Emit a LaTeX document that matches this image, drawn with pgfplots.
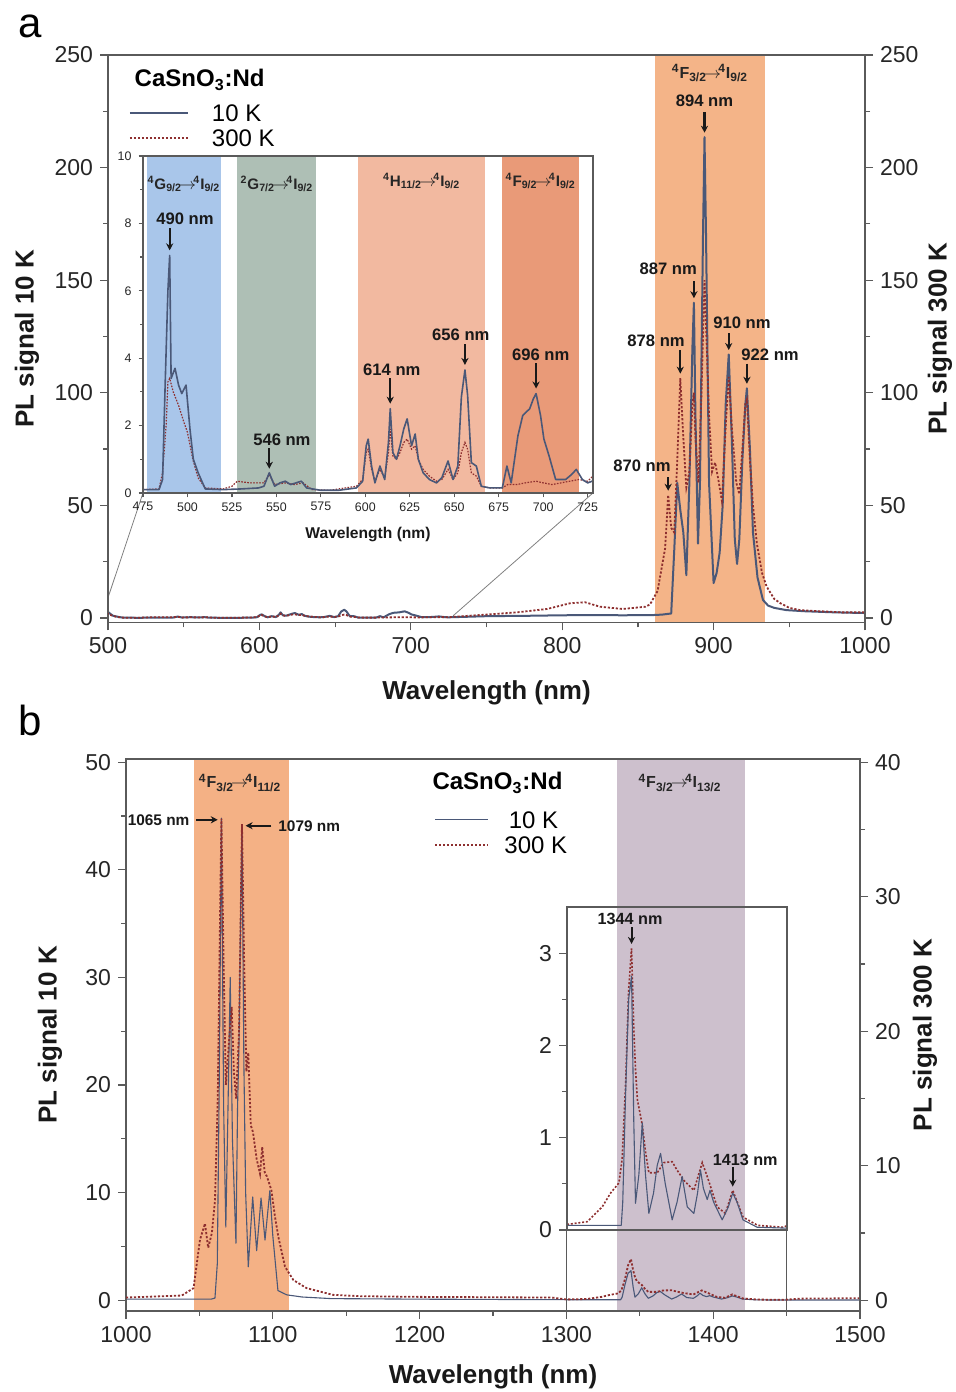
\documentclass[border=0pt]{standalone}
\usepackage{fontspec}
\setmainfont{Liberation Sans}
\usepackage{pgfplots}
\usepackage{pgfplotstable}
\pgfplotsset{compat=1.18}
\usetikzlibrary{arrows.meta}

\definecolor{cten}{HTML}{4A5878}
\definecolor{cthree}{HTML}{8E2F2F}
\definecolor{axgray}{HTML}{5A5A5A}
\definecolor{bandNIR}{HTML}{F4B488}
\definecolor{bandBlue}{HTML}{A9C6EA}
\definecolor{bandGreen}{HTML}{AEBFB5}
\definecolor{bandSalmon}{HTML}{F2B9A0}
\definecolor{bandDeep}{HTML}{E99A78}
\definecolor{bandB}{HTML}{F4B185}
\definecolor{bandPurple}{HTML}{CDC0CD}

% ---------- spectra, panel a (PL signal, same scale for both temperatures)
\pgfplotstableread{
x y
475 0.10
480 0.10
484 0.10
486 0.4
487.5 3.3
489 6.0
490 7.05
490.8 3.4
493 3.7
495 3.2
496.8 2.95
499.2 3.2
501.4 1.9
503.3 1.0
506 0.6
510 0.12
520 0.10
530 0.12
540 0.15
543 0.2
546 0.6
549 0.2
552 0.3
555 0.35
558 0.25
561 0.3
564 0.35
567 0.15
575 0.08
585 0.08
595 0.15
598.5 0.35
600.5 1.4
601.6 1.6
603.5 0.8
605.4 0.3
608.2 0.8
610.9 0.4
613 1.5
614 2.5
615.5 1.2
617.5 1.0
619.5 1.4
621.6 1.9
623.5 2.2
626 1.4
628 1.75
629.8 1.0
632.5 0.6
636 0.4
640 0.3
643 0.45
646.5 0.95
649.3 0.4
652 0.8
654 2.85
656 3.65
657.5 2.9
659.6 0.9
662.4 0.8
665.2 0.2
670 0.15
677 0.15
679.6 0.8
682 0.3
685.8 1.7
688.5 2.3
692.4 2.5
694.5 2.8
696 2.95
698.5 2.3
700.4 1.6
703.3 1.1
707 0.4
712.6 0.4
716 0.55
718.6 0.7
722 0.4
725 0.3
730 0.4
750 0.8
780 1.0
800 1.2
820 1.3
840 1.2
860 1.3
866 1.5
872 2.0
874 30
876 60
878 48
880 38
882 19
884 60
886 120
887 140
888 90
889.7 33
891 60
893 170
894 213.5
895 170
897 60
900 15.5
902 20
904 29
906 50
908 95
910 117
912 80
914 35
915.5 24
917 35
919 70
921 95
922 102
924 75
926 38
929 18
932.6 8
936 5.5
940 4.5
948 3.5
960 3
980 2.5
1000 2.2
}\tblAten

\pgfplotstableread{
x y
475 0.10
484 0.12
486 0.6
488 2.0
489 3.3
490 3.4
492 3.0
495 2.6
498 2.1
500 1.8
503 1.0
506 0.45
510 0.15
520 0.12
525 0.2
528 0.35
535 0.3
540 0.3
543 0.3
546 0.55
549 0.25
555 0.3
560 0.25
565 0.3
570 0.1
580 0.08
595 0.2
598.5 0.4
600.5 1.2
601.6 1.3
603.5 0.7
605.4 0.35
608.2 0.7
610.9 0.45
613 1.2
614 1.9
615.5 1.1
617.5 1.0
619.5 1.2
621.6 1.5
623.5 1.6
626 1.3
628 1.4
629.8 1.0
632.5 0.7
636 0.5
640 0.35
643 0.4
646.5 0.7
649.3 0.4
652 0.6
654 1.2
656 1.5
657.5 1.3
659.6 0.6
662.4 0.5
665.2 0.2
670 0.15
677 0.15
680 0.25
685 0.25
690 0.3
696 0.35
700 0.3
705 0.25
710 0.3
715 0.35
720 0.4
725 0.35
730 0.6
750 1.5
770 2.5
790 4.0
805 6.5
815 7.0
825 5.0
840 4.0
855 5.0
858 6
863 12
868 31
870 54.6
872 40
874 38
876 70
878 106.5
880 80
882 58
884 65
886 95
887 100
888 80
890 60
892 100
894 150
895 130
897 90
899 65
901 69
903 62
905.5 52
908 85
910 107
912 85
915 60
917 55
919 75
921 95
922 97
924 70
926 50
928.6 33
932 20
935 14
940 8.5
944 6.6
950 4.5
957 3.5
970 3
985 2.5
1000 2.5
}\tblAthree

% ---------- spectra, panel b (10 K on the left scale, 300 K on the right scale)
\pgfplotstableread{
x y
1000 0.1
1040 0.1
1058 0.1
1060.6 0.2
1062.2 3.4
1063.5 20
1065 44.8
1066.5 18
1068 6.8
1069.5 18
1071 30
1072.5 15
1074.9 5.3
1076 18
1077 24
1078 35
1079 44.2
1080.3 22
1081.5 10
1083.3 3.1
1086.3 9.6
1089 4.6
1090.5 7
1092 9.5
1094.7 5.6
1098 10.2
1100 6
1103.5 0.9
1109.5 0.5
1120 0.3
1140 0.15
1200 0.1
1300 0.05
1337 0.05
1338 0.3
1340 1.5
1342 2.5
1344 2.75
1345.5 1.2
1346.7 0.29
1349 0.6
1351.3 1.16
1353.5 0.6
1355.8 0.18
1359 0.4
1361.5 0.7
1363.8 0.83
1367 0.5
1371.7 0.11
1375 0.3
1378.5 0.58
1382 0.25
1386.5 0.18
1389 0.4
1391 0.65
1393 0.45
1395.6 0.33
1397.5 0.43
1400 0.3
1405.8 0.11
1410 0.25
1413 0.4
1416 0.3
1420 0.11
1429.6 0.03
1450 0.02
1500 0.02
}\tblBten

\pgfplotstableread{
x y
1000 0.2
1038 0.35
1046 0.9
1050.4 4.5
1053.8 5.7
1056 3.9
1058.5 5
1060.6 7.4
1062.5 15
1064 28
1065 35.8
1066.5 25
1068 16
1070 19
1072 21.8
1073.5 17
1075 15
1077 20
1079 35.4
1080.5 25
1082 17
1083.3 18.4
1085 13
1086.5 12.5
1089 10.5
1091.3 9.4
1092.8 11.4
1094.5 9.5
1096 9.2
1099 8.2
1101.5 6.2
1103.8 4.7
1108.3 2.5
1114 1.5
1123 0.9
1141 0.4
1160 0.3
1200 0.25
1290 0.2
1300 0.06
1313.8 0.09
1324 0.25
1329.7 0.4
1335.4 0.51
1337.6 0.77
1340 1.6
1342 2.6
1344 3.05
1345.5 2.2
1346.7 1.74
1348 1.41
1351.3 1.14
1353.5 0.85
1355.8 0.62
1361.5 0.62
1366 0.73
1371.7 0.74
1375 0.65
1379.6 0.54
1386.5 0.43
1392.2 0.73
1395.6 0.58
1402.4 0.25
1408 0.18
1413 0.43
1420 0.14
1430 0.05
1447.6 0.03
1460 0.12
1500 0.15
}\tblBthree

\newcommand{\trans}[4]{\textsuperscript{#1}#2\textsubscript{#3}$\!\rightarrow\!$\textsuperscript{4}I\textsubscript{#4}}

\tikzset{
  ann/.style={font=\bfseries\fontsize{8.3}{9}\selectfont, text=black!90},
  trn/.style={font=\bfseries\fontsize{8}{9}\selectfont, text=black!85},
  trnsmall/.style={font=\bfseries\fontsize{7.6}{8.5}\selectfont, text=black!85, inner sep=0pt},
  arr/.style={-{Stealth[length=3.5pt,width=3.6pt]}, line width=1.1pt, black!90},
  biglabel/.style={font=\bfseries\fontsize{13}{15}\selectfont, text=black!90},
}

\pgfplotsset{
  specax/.style={
    scale only axis,
    axis line style={draw=axgray, line width=0.6pt},
    every tick/.style={draw=axgray, line width=0.6pt},
    tick align=outside,
    major tick length=4pt, minor tick length=2.5pt,
    /pgf/number format/assume math mode=true,
    /pgf/number format/1000 sep={},
    tick label style={font=\fontsize{11.5}{13}\selectfont, text=black!85},
    axis on top,
  },
  tenline/.style={cten, line width=1.0pt, line join=round},
  threeline/.style={cthree, line width=0.9pt, dash pattern=on 1.1pt off 0.9pt},
}

\begin{document}
\begin{tikzpicture}

% ================= panel a =================
\begin{axis}[specax,
  at={(54pt,384.75pt)}, anchor=south west,
  width=378.5pt, height=283.75pt,
  xmin=500, xmax=1000, ymin=-2, ymax=250,
  xtick={500,600,...,1000}, minor xtick={550,650,...,950},
  ytick={0,50,...,250}, minor ytick={25,75,...,225},
  xtick pos=bottom, ytick pos=left,
  xlabel={Wavelength (nm)}, ylabel={PL signal 10 K},
  every axis x label/.style={at={(axis description cs:0.5,-0.124)}, anchor=center, biglabel},
  every axis y label/.style={at={(axis description cs:-0.107,0.5)}, anchor=center, rotate=90, biglabel},
]
\fill[bandNIR] (axis cs:861,-2) rectangle (axis cs:934,250);
\addplot[tenline] table {\tblAten};
% zoom guides to the inset
\draw[gray, line width=0.4pt] (axis cs:523.1,55.5) -- (axis cs:500,9);
\draw[gray, line width=0.4pt] (axis cs:820.3,55.5) -- (axis cs:728,1);
% legend
\node[anchor=west, font=\bfseries\fontsize{12}{13}\selectfont] at (axis cs:513,238.9) {CaSnO\textsubscript{3}:Nd};
\draw[cten, line width=1.0pt] (axis cs:514.5,224.2) -- (axis cs:552.8,224.2);
\node[anchor=west, font=\fontsize{12}{13}\selectfont] at (axis cs:564,224.2) {10 K};
\draw[cthree, line width=0.9pt, dash pattern=on 1.1pt off 0.9pt] (axis cs:514.5,213.1) -- (axis cs:552.8,213.1);
\node[anchor=west, font=\fontsize{12}{13}\selectfont] at (axis cs:564,213.1) {300 K};
% transition and peak labels
\node[trn] at (axis cs:897.6,242) {\trans{4}{F}{3/2}{9/2}};
\node[ann] at (axis cs:894,229.5) {894 nm};
\draw[arr] (axis cs:894,224.5) -- (axis cs:894,215.5);
\node[ann] at (axis cs:870,155) {887 nm};
\draw[arr] (axis cs:887,149.5) -- (axis cs:887,142);
\node[ann] at (axis cs:862,123) {878 nm};
\draw[arr] (axis cs:878,119) -- (axis cs:878,108.5);
\node[ann] at (axis cs:852.7,67.5) {870 nm};
\draw[arr] (axis cs:870,62.5) -- (axis cs:870,56.5);
\node[ann] at (axis cs:918.8,131) {910 nm};
\draw[arr] (axis cs:910,126.5) -- (axis cs:910,119);
\node[ann] at (axis cs:937.3,117) {922 nm};
\draw[arr] (axis cs:922,113) -- (axis cs:922,104);
\end{axis}

\begin{axis}[specax,
  at={(54pt,384.75pt)}, anchor=south west,
  width=378.5pt, height=283.75pt,
  xmin=500, xmax=1000, ymin=-2, ymax=250,
  axis x line=none, axis y line*=right,
  ytick={0,50,...,250}, minor ytick={25,75,...,225},
  ylabel={PL signal 300 K},
  every axis y label/.style={at={(axis description cs:1.099,0.5)}, anchor=center, rotate=90, biglabel},
]
\addplot[threeline] table {\tblAthree};
\end{axis}

% inset of panel a
\begin{axis}[specax,
  at={(71.5pt,449.5pt)}, anchor=south west,
  width=225pt, height=168.5pt,
  xmin=475, xmax=728, ymin=0, ymax=10,
  axis background/.style={fill=white},
  xtick={475,500,...,725}, ytick={0,2,...,10}, minor ytick={1,3,...,9},
  xtick pos=bottom, ytick pos=left,
  major tick length=2.2pt, minor tick length=1.4pt,
  tick label style={font=\fontsize{6.2}{7}\selectfont, text=black!85},
  xticklabel style={yshift=1pt},
  xlabel={Wavelength (nm)},
  every axis x label/.style={at={(axis description cs:0.5,-0.122)}, anchor=center, font=\bfseries\fontsize{7.8}{9}\selectfont, text=black!90},
]
\fill[bandBlue] (axis cs:477,0) rectangle (axis cs:519,10);
\fill[bandGreen] (axis cs:528,0) rectangle (axis cs:572,10);
\fill[bandSalmon] (axis cs:596,0) rectangle (axis cs:667,10);
\fill[bandDeep] (axis cs:677,0) rectangle (axis cs:720,10);
\addplot[cthree, line width=0.6pt, dash pattern=on 0.8pt off 0.7pt] table {\tblAthree};
\addplot[cten, line width=0.8pt, line join=round] table {\tblAten};
\node[trnsmall] at (axis cs:498,9.17) {\trans{4}{G}{9/2}{9/2}};
\node[trnsmall] at (axis cs:550.3,9.17) {\trans{2}{G}{7/2}{9/2}};
\node[trnsmall] at (axis cs:631.7,9.26) {\trans{4}{H}{11/2}{9/2}};
\node[trnsmall] at (axis cs:698.6,9.26) {\trans{4}{F}{9/2}{9/2}};
\node[ann] at (axis cs:498.6,8.14) {490 nm};
\draw[arr, line width=0.9pt] (axis cs:490,7.85) -- (axis cs:490,7.2);
\node[ann] at (axis cs:553.1,1.57) {546 nm};
\draw[arr, line width=0.9pt] (axis cs:546,1.33) -- (axis cs:546,0.72);
\node[ann] at (axis cs:614.9,3.67) {614 nm};
\draw[arr, line width=0.9pt] (axis cs:614,3.4) -- (axis cs:614,2.65);
\node[ann] at (axis cs:653.7,4.7) {656 nm};
\draw[arr, line width=0.9pt] (axis cs:656,4.42) -- (axis cs:656,3.8);
\node[ann] at (axis cs:698.6,4.11) {696 nm};
\draw[arr, line width=0.9pt] (axis cs:696,3.85) -- (axis cs:696,3.1);
\end{axis}

% ================= panel b =================
\begin{axis}[specax,
  at={(63pt,40.5pt)}, anchor=south west,
  width=367pt, height=276pt,
  xmin=1000, xmax=1500, ymin=-1, ymax=50.3,
  xtick={1000,1100,...,1500}, minor xtick={1050,1150,...,1450},
  ytick={0,10,...,50}, minor ytick={5,15,...,45},
  xtick pos=bottom, ytick pos=left,
  xlabel={Wavelength (nm)}, ylabel={PL signal 10 K},
  every axis x label/.style={at={(axis description cs:0.5,-0.1196)}, anchor=center, biglabel},
  every axis y label/.style={at={(axis description cs:-0.1035,0.5)}, anchor=center, rotate=90, biglabel},
]
\fill[bandB] (axis cs:1046,-1) rectangle (axis cs:1111,50.3);
\fill[bandPurple] (axis cs:1334.5,-1) rectangle (axis cs:1422,50.3);
\addplot[cten, line width=0.55pt, line join=round] table {\tblBten};
% sides of the inset frame down to the axis
\draw[axgray, line width=0.6pt] (axis cs:1300,-1) -- (axis cs:1300,6.53);
\draw[axgray, line width=0.6pt] (axis cs:1450,-1) -- (axis cs:1450,6.53);
% legend
\node[anchor=west, font=\bfseries\fontsize{12}{13}\selectfont] at (axis cs:1204,48.1) {CaSnO\textsubscript{3}:Nd};
\draw[cten, line width=0.55pt] (axis cs:1210.5,44.65) -- (axis cs:1246.6,44.65);
\node[anchor=west, font=\fontsize{12}{13}\selectfont] at (axis cs:1256,44.65) {10 K};
\draw[cthree, line width=0.9pt, dash pattern=on 1.1pt off 0.9pt] (axis cs:1210.5,42.3) -- (axis cs:1246.6,42.3);
\node[anchor=west, font=\fontsize{12}{13}\selectfont] at (axis cs:1253,42.3) {300 K};
% transitions and peak labels
\node[trn] at (axis cs:1077.7,48.1) {\trans{4}{F}{3/2}{11/2}};
\node[trn] at (axis cs:1377.4,48.1) {\trans{4}{F}{3/2}{13/2}};
\node[ann, anchor=east, font=\bfseries\fontsize{7.7}{9}\selectfont] at (axis cs:1048,44.65) {1065 nm};
\draw[arr, line width=1pt] (axis cs:1048,44.65) -- (axis cs:1062.5,44.65);
\node[ann, anchor=west, font=\bfseries\fontsize{7.7}{9}\selectfont] at (axis cs:1099,44.1) {1079 nm};
\draw[arr, line width=1pt] (axis cs:1099,44.1) -- (axis cs:1081.5,44.1);
\end{axis}

\begin{axis}[specax,
  at={(63pt,40.5pt)}, anchor=south west,
  width=367pt, height=276pt,
  xmin=1000, xmax=1500, ymin=-0.8, ymax=40.24,
  axis x line=none, axis y line*=right,
  ytick={0,10,...,40}, minor ytick={5,15,...,35},
  ylabel={PL signal 300 K},
  every axis y label/.style={at={(axis description cs:1.0886,0.5)}, anchor=center, rotate=90, biglabel},
]
\addplot[threeline] table {\tblBthree};
\end{axis}

% inset of panel b
\begin{axis}[specax,
  at={(283.5pt,81pt)}, anchor=south west,
  width=110pt, height=161.5pt,
  xmin=1300, xmax=1450, ymin=0, ymax=3.5,
  xtick=\empty, ytick={0,1,2,3}, minor ytick={0.5,1.5,2.5},
  ytick pos=left,
]
\addplot[cthree, line width=0.8pt, dash pattern=on 1pt off 0.9pt] table {\tblBthree};
\addplot[cten, line width=0.55pt, line join=round] table {\tblBten};
\node[ann, font=\bfseries\fontsize{8.1}{9}\selectfont] at (axis cs:1343,3.37) {1344 nm};
\draw[arr, line width=1pt] (axis cs:1344,3.28) -- (axis cs:1344,3.1);
\node[ann, font=\bfseries\fontsize{8.1}{9}\selectfont] at (axis cs:1421.5,0.76) {1413 nm};
\draw[arr, line width=1pt] (axis cs:1413,0.68) -- (axis cs:1413,0.47);
\end{axis}

% panel letters
\node[font=\fontsize{21}{21}\selectfont] at (15pt,683pt) {a};
\node[font=\fontsize{21}{21}\selectfont] at (15pt,336pt) {b};

\pgfresetboundingbox
\path[use as bounding box] (0,0) rectangle (477.5pt,696pt);
\end{tikzpicture}
\end{document}
